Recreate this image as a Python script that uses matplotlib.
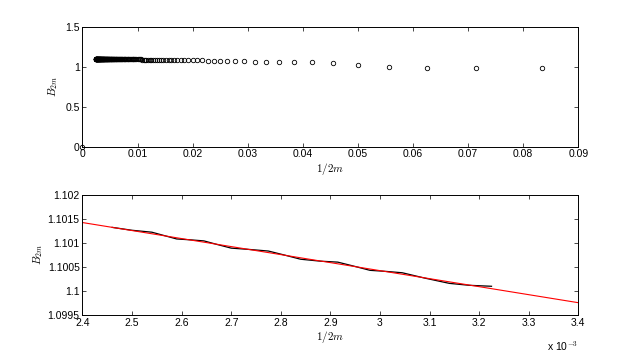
import numpy as np
import matplotlib
matplotlib.use("Agg")
import matplotlib.pyplot as plt
from matplotlib.ticker import FuncFormatter

plt.rcParams['font.family'] = ['Liberation Sans', 'DejaVu Sans']
plt.rcParams['mathtext.fontset'] = 'cm'

# datos del panel superior: B_2m contra 1/2m, m = 6 ... 208
m_vals = np.arange(6, 209)
B_top = [
    0.979, 0.979, 0.983, 1.000, 1.021, 1.042, 1.052, 1.056, 1.060, 1.062,  # m 6-15
    1.064, 1.066, 1.068, 1.070, 1.072, 1.075, 1.076, 1.077, 1.078, 1.079,  # m 16-25
    1.079, 1.080, 1.081, 1.082, 1.082, 1.083, 1.083, 1.084, 1.085, 1.085,  # m 26-35
    1.085, 1.086, 1.086, 1.087, 1.087, 1.088, 1.088, 1.088, 1.089, 1.089,  # m 36-45
    1.089, 1.090, 1.090, 1.090, 1.090, 1.091, 1.091, 1.091, 1.091, 1.092,  # m 46-55
    1.092, 1.092, 1.092, 1.092, 1.093, 1.093, 1.093, 1.093, 1.093, 1.094,  # m 56-65
    1.094, 1.094, 1.094, 1.094, 1.094, 1.095, 1.095, 1.095, 1.095, 1.095,  # m 66-75
    1.095, 1.095, 1.095, 1.095, 1.096, 1.096, 1.096, 1.096, 1.096, 1.096,  # m 76-85
    1.097, 1.097, 1.097, 1.097, 1.097, 1.097, 1.097, 1.097, 1.097, 1.097,  # m 86-95
    1.097, 1.097, 1.098, 1.098, 1.098, 1.098, 1.098, 1.098, 1.098, 1.098,  # m 96-105
    1.098, 1.098, 1.098, 1.098, 1.098, 1.098, 1.098, 1.099, 1.099, 1.099,  # m 106-115
    1.099, 1.099, 1.099, 1.099, 1.099, 1.099, 1.099, 1.099, 1.099, 1.099,  # m 116-125
    1.099, 1.099, 1.099, 1.099, 1.099, 1.099, 1.099, 1.099, 1.099, 1.099,  # m 126-135
    1.100, 1.100, 1.100, 1.100, 1.100, 1.100, 1.100, 1.100, 1.100, 1.100,  # m 136-145
    1.100, 1.100, 1.100, 1.100, 1.100, 1.100, 1.100, 1.100, 1.100, 1.100,  # m 146-155
    1.1001, 1.1001, 1.1001, 1.1002, 1.1002, 1.1002, 1.1003, 1.1003, 1.1004, 1.1004,  # m 156-165
    1.1004, 1.1004, 1.1005, 1.1005, 1.1005, 1.1006, 1.1006, 1.1006, 1.1007, 1.1007,  # m 166-175
    1.1007, 1.1008, 1.1008, 1.1008, 1.1008, 1.1008, 1.1009, 1.1009, 1.1009, 1.1009,  # m 176-185
    1.1009, 1.1010, 1.1010, 1.1010, 1.1010, 1.1011, 1.1011, 1.1011, 1.1012, 1.1012,  # m 186-195
    1.1012, 1.1012, 1.1013, 1.1013, 1.1013, 1.1013, 1.1013, 1.1013, 1.1014, 1.1014,  # m 196-205
    1.1014, 1.1014, 1.1014,  # m 206-208
]
x_top = 1.0 / (2 * m_vals)
# punto suelto en el origen
x_origen = [0.0]
B_origen = [0.0]

# panel inferior: curva negra (zoom) y recta roja
x_zoom = [2.460e-3, 2.500e-3, 2.540e-3, 2.565e-3, 2.590e-3, 2.620e-3, 2.645e-3,
          2.670e-3, 2.700e-3, 2.740e-3, 2.775e-3, 2.810e-3, 2.840e-3, 2.880e-3,
          2.915e-3, 2.950e-3, 2.980e-3, 3.010e-3, 3.045e-3, 3.090e-3, 3.140e-3,
          3.180e-3, 3.225e-3]
B_zoom = [1.10132, 1.10126, 1.10122, 1.10115, 1.10108, 1.10106, 1.10104,
          1.10097, 1.10089, 1.10086, 1.10083, 1.10074, 1.10066, 1.10062,
          1.10060, 1.10051, 1.10043, 1.10041, 1.10038, 1.10027, 1.10016,
          1.10012, 1.10010]
x_recta = [2.4e-3, 3.4e-3]
B_recta = [1.10142, 1.09976]

fig = plt.figure(figsize=(6.39, 3.55), dpi=100)
ax1 = fig.add_axes([0.129, 0.587, 0.776, 0.338])
ax2 = fig.add_axes([0.129, 0.112, 0.776, 0.340])

fs = 7.5
ax1.plot(x_top, B_top, 'o', mfc='none', mec='black', ms=3.2, mew=0.6)
ax1.plot(x_origen, B_origen, 'o', mfc='none', mec='black', ms=3.2, mew=0.6, clip_on=False)
ax1.set_xlim(0, 0.09)
ax1.set_ylim(0, 1.5)
ax1.set_xticks(np.arange(0, 0.0901, 0.01))
ax1.set_yticks([0, 0.5, 1, 1.5])
ax1.xaxis.set_major_formatter(FuncFormatter(lambda v, p: '%g' % round(v, 4)))
ax1.yaxis.set_major_formatter(FuncFormatter(lambda v, p: '%g' % round(v, 4)))
ax1.set_xlabel('$1/2m$', fontsize=8, labelpad=1)
ax1.set_ylabel('$B_{2m}$', fontsize=8, labelpad=4)

ax2.plot(x_zoom, B_zoom, '-', color='black', lw=0.9)
ax2.plot(x_recta, B_recta, '-', color='red', lw=0.8)
ax2.set_xlim(2.4e-3, 3.4e-3)
ax2.set_ylim(1.0995, 1.102)
ax2.set_xticks(np.arange(2.4e-3, 3.4001e-3, 0.1e-3))
ax2.set_yticks([1.0995, 1.1, 1.1005, 1.101, 1.1015, 1.102])
ax2.xaxis.set_major_formatter(FuncFormatter(lambda v, p: '%g' % round(v * 1e3, 4)))
ax2.yaxis.set_major_formatter(FuncFormatter(lambda v, p: '%g' % round(v, 5)))
ax2.set_xlabel('$1/2m$', fontsize=8, labelpad=1)
ax2.set_ylabel('$B_{2m}$', fontsize=8, labelpad=2)
ax2.text(1.0, -0.2, 'x 10$^{-3}$', transform=ax2.transAxes, ha='right', va='top',
         fontsize=fs)

for ax in (ax1, ax2):
    ax.tick_params(direction='in', top=True, right=True, length=3, width=0.5,
                   labelsize=fs, pad=2)
    for s in ax.spines.values():
        s.set_linewidth(0.7)

fig.savefig('out.png', dpi=100)
